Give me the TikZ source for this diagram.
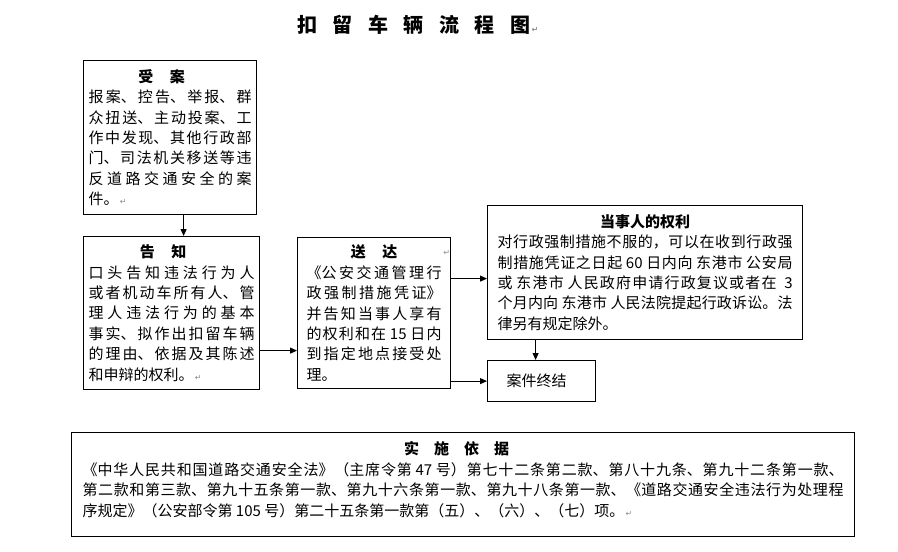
\documentclass[tikz,border=0pt]{standalone}
\usepackage{fontspec}
\usetikzlibrary{arrows.meta,positioning}
\newfontfamily\cjk{Noto Sans CJK SC}
\newfontfamily\symfont{DejaVu Sans}
\XeTeXlinebreaklocale "zh"
\XeTeXlinebreakskip=0pt plus 4pt
\tolerance=9999
\newcommand{\pmark}{{\symfont\fontsize{8}{8}\selectfont\color{black!45}\,↵}}
\newcommand{\tsp}{\hspace{15.5pt}}

\tikzset{
  box/.style={draw, line width=1.2pt, anchor=north west, align=justify,
    font=\cjk\fontsize{15}{20.4}\selectfont, inner ysep=4pt},
  arr/.style={line width=1pt, -{Triangle[length=7pt,width=6pt]}},
}

\begin{document}
\begin{tikzpicture}[x=1pt,y=-1pt]
  \useasboundingbox (0,0) rectangle (898,552);

  \node[anchor=west, inner sep=0pt, font=\cjk\bfseries\fontsize{20}{20}\selectfont] (title) at (297,25)
    {扣\tsp 留\tsp 车\tsp 辆\tsp 流\tsp 程\tsp 图\pmark};

  \node[box, text width=163pt, inner xsep=5pt, minimum height=154pt] (accept) at (83,60)
    {{\centering\bfseries 受\hspace{1.1em}案\hspace*{17pt}\par}
     报案、控告、举报、群\linebreak 众扭送、主动投案、工\linebreak 作中发现、其他行政部\linebreak
     门、司法机关移送等违\linebreak 反道路交通安全的案\linebreak 件。\pmark};

  \node[box, text width=166pt, inner xsep=5pt, minimum height=153pt] (notify) at (83,236)
    {{\centering\bfseries 告\hspace{1.1em}知\hspace*{17pt}\par}
     口头告知违法行为人\linebreak 或者机动车所有人、管\linebreak 理人违法行为的基本\linebreak
     事实、拟作出扣留车辆\linebreak 的理由、依据及其陈述\linebreak 和申辩的权利。\pmark};

  \node[box, text width=135pt, inner xsep=9pt, minimum height=151pt] (deliver) at (297,237)
    {{\centering\bfseries 送\hspace{1.1em}达\par}
     《公安交通管理行\linebreak 政强制措施凭证》\linebreak 并告知当事人享有\linebreak
     的权利和在 15 日内\linebreak 到指定地点接受处\linebreak 理。};
  \node[inner sep=0pt] (delivermark) at (446,253) {\pmark};

  \node[box, text width=295pt, inner xsep=10pt, minimum height=134pt] (rights) at (487,205)
    {{\centering\bfseries 当事人的权利\par}
     对行政强制措施不服的，可以在收到行政强\linebreak
     制措施凭证之日起 60 日内向 东港市 公安局\linebreak
     或 东港市 人民政府申请行政复议或者在\ \ 3\linebreak
     个月内向 东港市 人民法院提起行政诉讼。法\linebreak
     律另有规定除外。};

  \node[box, align=center, minimum width=108pt, minimum height=41pt] (close) at (487,360)
    {案件终结\hspace*{10pt}};

  \node[box, text width=761pt, inner xsep=11pt, minimum height=104pt] (basis) at (71,432)
    {{\centering\bfseries 实\hspace{1em}施\hspace{1em}依\hspace{1em}据\hspace*{13pt}\par}
     《中华人民共和国道路交通安全法》（主席令第 47 号）第七十二条第二款、第八十九条、第九十二条第一款、\linebreak
     第二款和第三款、第九十五条第一款、第九十六条第一款、第九十八条第一款、《道路交通安全违法行为处理程\linebreak
     序规定》（公安部令第 105 号）第二十五条第一款第（五）、（六）、（七）项。\pmark\par
     \nointerlineskip\noindent\rule{0pt}{10pt}};

  % flow
  \draw[arr] ([xshift=13.5pt]accept.south) -- ([xshift=13.5pt]accept.south |- notify.north);
  \draw[arr] ([yshift=-37.5pt]notify.east) -- ([yshift=-37.5pt]notify.east -| deliver.west);
  \draw[arr] ([yshift=34.5pt]deliver.east) -- ([yshift=34.5pt]deliver.east -| rights.west);
  \draw[arr] (deliver.east |- close.west) -- (close.west);
  \draw[arr] ([xshift=-6pt]close.north |- rights.south) -- ([xshift=-6pt]close.north);
\end{tikzpicture}
\end{document}
